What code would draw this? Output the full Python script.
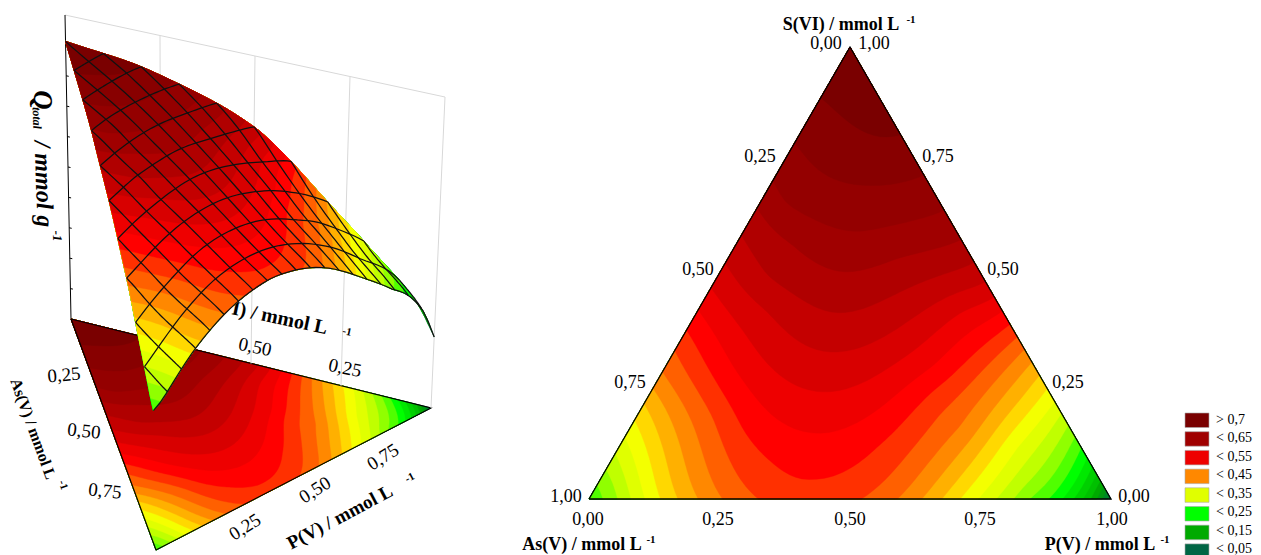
import numpy as np, pandas as pd, altair as alt
alt.data_transformers.disable_max_rows()

# ---- readings of the contour map: (S share, position across the chord P/(1-S), value)
BOTTOM_EDGE = [(0,0,.26),(0,.031,.275),(0,.054,.3),(0,.08,.325),(0,.107,.35),(0,.136,.375),(0,.17,.4),(0,.209,.425),(0,.255,.45),(0,.324,.475),(0,.42,.492),
  (0,.523,.475),(0,.592,.45),(0,.638,.425),(0,.676,.4),(0,.711,.375),(0,.745,.35),(0,.78,.325),(0,.816,.3),(0,.839,.275),(0,.883,.25),(0,.908,.225),(0,.927,.2),(0,.946,.175),(0,.966,.15),(0,.983,.1),(0,1,.045)]
LEFT_EDGE = [(.889,0,.7),(.788,0,.675),(.705,0,.65),(.646,0,.625),(.584,0,.6),(.522,0,.575),(.467,0,.55),(.418,0,.525),(.374,0,.5),(.33,0,.475),(.279,0,.45),(.245,0,.425),(.212,0,.4),(.175,0,.375),(.137,0,.35),(.102,0,.325),(.064,0,.3),(.035,0,.275)]
RIGHT_EDGE = [(1,1,.727),(.805,1,.7),(.717,1,.675),(.639,1,.65),(.573,1,.625),(.524,1,.6),(.478,1,.575),(.447,1,.55),(.415,1,.525),(.387,1,.5),(.358,1,.475),(.332,1,.45),(.303,1,.425),(.274,1,.4),(.245,1,.375),(.214,1,.35),(.19,1,.325),(.164,1,.3),(.137,1,.275),(.115,1,.25),(.09,1,.225),(.073,1,.2),(.055,1,.175),(.038,1,.15),(.018,1,.1)]
ARCS = [(.049,.425,.5),(.146,.44,.525),(.237,.437,.55),(.325,.452,.575),(.412,.446,.6),(.502,.473,.625),(.591,.534,.65),(.695,.61,.675),(.799,.79,.7),
  (.153,.258,.5),(.086,.333,.5),(.115,.558,.5),(.241,.71,.5),(.19,.31,.525),(.292,.184,.525),(.197,.566,.525),(.292,.724,.525),
  (.301,.271,.55),(.308,.64,.55),(.418,.872,.55),(.418,.227,.575),(.358,.6,.575),(.491,.188,.6),(.44,.613,.6),(.566,.248,.625),(.535,.704,.625),(.655,.128,.65),
  (.181,.18,.475),(.19,.712,.475),(.159,.752,.45),(.115,.861,.35)]

LEVELS = [.05,.075,.1,.125,.15,.175,.2,.225,.25,.275,.3,.325,.35,.375,.4,.425,.45,.475,.5,.525,.55,.575,.6,.625,.65,.675,.7]
BAND_COLORS = ["#007838","#008828","#009810","#00aa00","#00c000","#00d000","#00e800","#00ff00","#50ff00","#90ff00","#c0ff00","#e0ff00","#f4ff00","#ffd800","#ffb000","#ff8800","#ff6000","#ff3000","#ff0000","#ee0000","#d80000","#c40000","#b00000","#a00000","#940000","#880000","#7a0000"]
BASE_COLOR = "#006644"
LEGEND_LABELS = ["> 0,7","< 0,65","< 0,55","< 0,45","< 0,35","< 0,25","< 0,15","< 0,05"]
LEGEND_COLORS = ["#7a0000","#a00000","#ee0000","#ff8800","#e0ff00","#00ff00","#00aa00","#006644"]

readings = np.array(BOTTOM_EDGE+LEFT_EDGE+RIGHT_EDGE+ARCS,float)
rS = readings[:,0]; rP = readings[:,1]*(1-rS); rZ = readings[:,2]
def cart(P,S): return np.stack([P+S/2, S*np.sqrt(3)/2],-1)
ctr = cart(rP,rS)
def kern(a,b):
    d = np.linalg.norm(a[:,None,:]-b[None,:,:],axis=-1)
    with np.errstate(all='ignore'):
        k = d*d*np.log(d)
    k[d==0]=0
    return k
N=len(ctr)
Pm = np.c_[np.ones(N),ctr]
A = np.zeros((N+3,N+3)); A[:N,:N]=kern(ctr,ctr)+1.5e-3*np.eye(N); A[:N,N:]=Pm; A[N:,:N]=Pm.T
w = np.linalg.solve(A,np.r_[rZ,0,0,0])
def surf(P,S):
    q = cart(np.asarray(P,float),np.asarray(S,float)).reshape(-1,2)
    return kern(q,ctr)@w[:N] + np.c_[np.ones(len(q)),q]@w[N:]

# ---- panels
LT,RT,TP = np.array([589.,499.]),np.array([1111.,499.]),np.array([850.,47.])
def tern(As,P,S):
    return As*LT[0]+P*RT[0]+S*TP[0], As*LT[1]+P*RT[1]+S*TP[1]
Af,Pf,Sf = np.array([156.,550.]),np.array([431.,408.]),np.array([71.,319.])
At,Pt,St = np.array([150.,228.]),np.array([445.,97.]),np.array([65.,15.])
def floor(As,P,S):
    return As*Af[0]+P*Pf[0]+S*Sf[0], As*Af[1]+P*Pf[1]+S*Sf[1]
def wall(As,P,S,f):
    x0,y0=floor(As,P,S)
    x1,y1=As*At[0]+P*Pt[0]+S*St[0], As*At[1]+P*Pt[1]+S*St[1]
    return x0+f*(x1-x0), y0+f*(y1-y0)
def lift(As,P,S,z):
    # the 3D view's P-side shoulder sits a little lower than the map's values
    sag=.06*np.sin(np.pi*np.clip(S,0,.5)/.5)*np.clip(P,0,1)**3
    return wall(As,P,S,.168+1.025*(z-sag))

# ---- contour loops of the superlevel regions
n=70
keys=[(b,c) for c in range(n+1) for b in range(n+1-c)]
zz=surf(np.array([k[0]/n for k in keys]),np.array([k[1]/n for k in keys]))
Z=dict(zip(keys,zz))
tris=[]
for c in range(n):
    for b in range(n-c):
        tris.append(((b,c),(b+1,c),(b,c+1)))
        if b+c<n-1: tris.append(((b+1,c),(b+1,c+1),(b,c+1)))
def loops_for(L):
    edges={}
    for tri in tris:
        v=[(t[0]/n,t[1]/n,Z[t]) for t in tri]
        poly=[]
        for i in range(3):
            a,b=v[i],v[(i+1)%3]
            if a[2]>=L: poly.append(a)
            if (a[2]>=L)!=(b[2]>=L):
                t=(L-a[2])/(b[2]-a[2])
                poly.append((a[0]+t*(b[0]-a[0]),a[1]+t*(b[1]-a[1]),L))
        if len(poly)<3: continue
        ks=[(round(p[0],6),round(p[1],6),round(p[2],5)) for p in poly]
        for i in range(len(ks)):
            s,e=ks[i],ks[(i+1)%len(ks)]
            if s==e: continue
            if (e,s) in edges: del edges[(e,s)]
            else: edges[(s,e)]=1
    nxt={}
    for s,e in edges: nxt.setdefault(s,[]).append(e)
    loops=[]
    while nxt:
        st=next(iter(nxt)); cur=st; lp=[]
        while True:
            lp.append(cur)
            e=nxt[cur].pop()
            if not nxt[cur]: del nxt[cur]
            cur=e
            if cur==st or cur not in nxt: break
        lp.append(st); loops.append(lp)
    return loops

base=[(0.,0.,.045),(1.,0.,.045),(0.,1.,.727),(0.,0.,.045)]
level_loops=[]
for L,col in zip(LEVELS,BAND_COLORS):
    for lp in loops_for(L):
        if len(lp)>3: level_loops.append((col,lp))

def band_frame(fn,with_base=True):
    rows=[]
    loops=([(BASE_COLOR,base)] if with_base else [])+level_loops
    for i,(col,lp) in enumerate(loops):
        a=np.array(lp)
        P,S,z=a[:,0],a[:,1],a[:,2]
        x,y=fn(1-P-S,P,S,z)
        for j in range(len(a)):
            rows.append((round(float(x[j]),2),round(float(y[j]),2),col,i,j))
    return pd.DataFrame(rows,columns=['x','y','c','id','seq'])

xs=alt.Scale(domain=[8,1253]); ys=alt.Scale(domain=[555,8])
X=alt.X('x:Q',scale=xs,axis=None); Y=alt.Y('y:Q',scale=ys,axis=None)
def bands(fn,with_base=True):
    return alt.Chart(band_frame(fn,with_base)).mark_line(strokeWidth=.4,interpolate='linear').encode(
        x=X,y=Y,fill=alt.Fill('c:N',scale=None),stroke=alt.Stroke('c:N',scale=None),
        detail='id:N',order='seq:Q')
def polyl(paths,color,width):
    rows=[]
    for i,(xa,ya) in enumerate(paths):
        for j,(a,b) in enumerate(zip(xa,ya)):
            rows.append((float(a),float(b),i,j))
    return alt.Chart(pd.DataFrame(rows,columns=['x','y','id','seq'])).mark_line(color=color,strokeWidth=width).encode(x=X,y=Y,detail='id:N',order='seq:Q')

def texts(items,weight='normal',style='normal'):
    df=pd.DataFrame(items,columns=['x','y','t','s','a'])
    return alt.Chart(df).mark_text(font='Liberation Serif',fontWeight=weight,fontStyle=style,color='black',baseline='middle',align='center').encode(
        x=X,y=Y,text='t:N',size=alt.Size('s:Q',scale=None),angle=alt.Angle('a:Q',scale=None))

# ---- left panel
wall_paths=[]
for t in (.25,.5,.75,1.):
    wall_paths.append(wall(np.array([0.,0.]),np.array([t,t]),np.array([1-t,1-t]),np.array([0.,1.])))
wall_paths.append(wall(np.array([0.,0.]),np.array([0.,1.]),np.array([1.,0.]),np.array([1.,1.])))
walls=polyl(wall_paths,'#d8d8d8',1)
zaxis=[wall(np.array([0.,0.]),np.array([0.,0.]),np.array([1.,1.]),np.array([0.,1.]))]
for f in np.arange(.1,1.,.1):
    p0=wall(np.array([0.]),np.array([0.]),np.array([1.]),np.array([f]))
    zaxis.append((np.array([p0[0][0],p0[0][0]+2.5]),np.array([p0[1][0],p0[1][0]+.5])))
zax=polyl(zaxis,'black',1)
fl_outline=polyl([floor(np.array([0.,1.,0.,0.]),np.array([0.,0.,1.,0.]),np.array([1.,0.,0.,1.]))],'black',1.2)

mesh=[]
for j in range(0,10):
    S=j/10; xv=np.linspace(S/2,1-S/2,45); P=xv-S/2; Sv=np.full_like(P,S)
    mesh.append(lift(1-P-Sv,P,Sv,surf(P,Sv)))
for k in range(1,20):
    xv=k*.05; top=min(2*xv,2-2*xv)
    Sv=np.linspace(0,top,40); P=np.clip(xv-Sv/2,0,1)
    mesh.append(lift(np.clip(1-P-Sv,0,1),P,Sv,surf(P,Sv)))
mesh_l=polyl(mesh,'#111111',1.25)

left_normal=[(64,375,'0,25',19,-5),(84,431,'0,50',19,6),(105,491,'0,75',19,6),
 (255,347,'0,50',19,12),(345,368,'0,25',19,12),(245,527,'0,25',19,-32),(315,490,'0,50',19,-32),(383,457,'0,75',19,-32)]
left_bold=[(264,315,'S(VI) / mmol L',20,12),(347,332,'-1',11,12),
 (33,429,'As(V) / mmol L',16,70),(63,485,'-1',11,70),
 (340,517,'P(V) / mmol L',19,-28),(410,478,'-1',11,-28)]
left_bi=[(42,100,'Q',27,88),(37,118,'total',12,88),(43,184,'/ mmol g',24,88),(57,236,'-1',13,88)]

# ---- right panel
tri=polyl([tern(np.array([1.,0.,0.,1.]),np.array([0.,1.,0.,0.]),np.array([0.,0.,1.,0.]))],'black',1.3)
right_normal=[(826,44,'0,00',18,0),(874,44,'1,00',18,0),(760,157,'0,25',18,0),(938,157,'0,75',18,0),(698,270,'0,50',18,0),(1003,270,'0,50',18,0),
 (630,383,'0,75',18,0),(1068,383,'0,25',18,0),(566,497,'1,00',18,0),(1134,497,'0,00',18,0),
 (588,520,'0,00',18,0),(718,520,'0,25',18,0),(850,520,'0,50',18,0),(980,520,'0,75',18,0),(1112,520,'1,00',18,0)]
right_bold=[(841,25,'S(VI) / mmol L',18,0),(911,20,'-1',11,0),(582,545,'As(V) / mmol L',18,0),(651,540,'-1',11,0),(1100,545,'P(V) / mmol L',18,0),(1165,540,'-1',11,0)]

# ---- legend
rows=[(1185,1209,413+i*18.7,427.5+i*18.7,c) for i,c in enumerate(LEGEND_COLORS)]
leg=alt.Chart(pd.DataFrame(rows,columns=['x','x2','y','y2','c'])).mark_rect(stroke='#aaaaaa',strokeWidth=.6).encode(
    x=X,x2='x2:Q',y=Y,y2='y2:Q',fill=alt.Fill('c:N',scale=None))
ltxt=pd.DataFrame([(1216,419.5+i*18.5,t) for i,t in enumerate(LEGEND_LABELS)],columns=['x','y','t'])
leg_t=alt.Chart(ltxt).mark_text(font='Liberation Serif',fontSize=14,align='left',baseline='middle',color='black').encode(x=X,y=Y,text='t:N')

chart=alt.layer(
    bands(lambda a,p,s,z:floor(a,p,s)),fl_outline,walls,zax,
    texts(left_normal),texts(left_bold,'bold'),texts(left_bi,'bold','italic'),
    bands(lift,False),mesh_l,
    bands(lambda a,p,s,z:tern(a,p,s)),tri,
    texts(right_normal),texts(right_bold,'bold'),leg,leg_t
).properties(width=1245,height=547,padding=0,autosize='none',background='white').configure_view(stroke=None)
chart.save("out.html",embed_options={"renderer":"svg","actions":False})
